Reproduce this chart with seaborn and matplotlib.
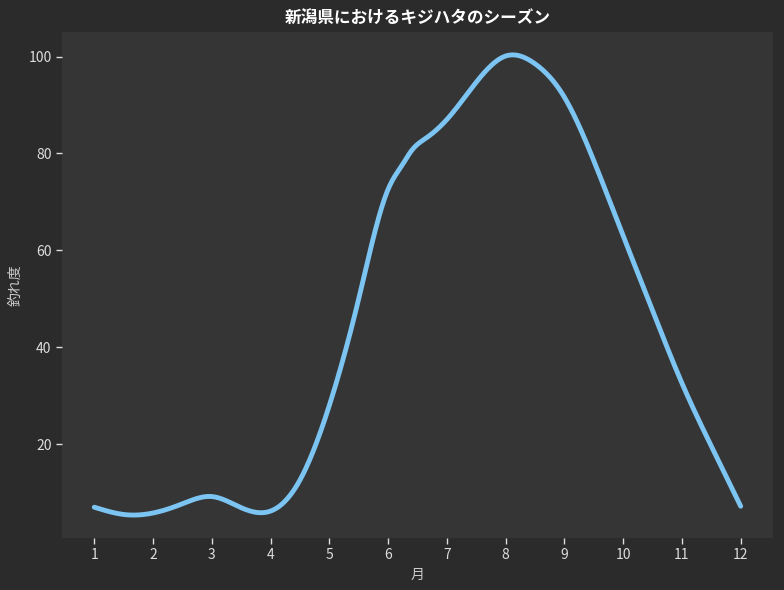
import matplotlib
matplotlib.use('Agg')
import matplotlib.pyplot as plt
import numpy as np
import pandas as pd
import seaborn as sns

# 読み取った値（月, 釣れ度）
months = [1, 1.5, 2, 2.5, 3, 3.5, 4, 4.5, 5, 5.5, 6, 6.25, 6.4, 6.65,
          7, 7.5, 8, 8.5, 9, 9.5, 10, 10.5, 11, 11.5, 12]
catch_rate = [7.0, 5.5, 5.8, 7.7, 9.2, 6.9, 6.2, 12.6, 28.0, 50.0, 72.6, 77.8, 80.6, 83.2,
              87.0, 94.7, 100.1, 98.5, 91.6, 78.5, 63.0, 47.6, 32.6, 19.6, 7.2]
tick_months = list(range(1, 13))

title = '新潟県におけるキジハタのシーズン'
xlabel = '月'
ylabel = '釣れ度'


def natural_spline(x, y, n=500):
    # 描画用の自然3次スプライン（scipy なし）
    x = np.asarray(x, float)
    y = np.asarray(y, float)
    k = len(x)
    h = np.diff(x)
    A = np.zeros((k, k))
    b = np.zeros(k)
    A[0, 0] = A[-1, -1] = 1
    for i in range(1, k - 1):
        A[i, i - 1] = h[i - 1]
        A[i, i] = 2 * (h[i - 1] + h[i])
        A[i, i + 1] = h[i]
        b[i] = 6 * ((y[i + 1] - y[i]) / h[i] - (y[i] - y[i - 1]) / h[i - 1])
    m = np.linalg.solve(A, b)
    xs = np.linspace(x[0], x[-1], n)
    idx = np.clip(np.searchsorted(x, xs) - 1, 0, k - 2)
    x0, x1 = x[idx], x[idx + 1]
    hh = x1 - x0
    t0, t1 = x1 - xs, xs - x0
    ys = (m[idx] * t0 ** 3 / (6 * hh) + m[idx + 1] * t1 ** 3 / (6 * hh)
          + (y[idx] / hh - m[idx] * hh / 6) * t0
          + (y[idx + 1] / hh - m[idx + 1] * hh / 6) * t1)
    return xs, ys


xs, ys = natural_spline(months, catch_rate)
df = pd.DataFrame({'month': xs, 'value': ys})

sns.set_theme(style='dark')
plt.rcParams['font.family'] = ['Noto Sans CJK JP', 'DejaVu Sans']

fig = plt.figure(figsize=(7.84, 5.9), dpi=100, facecolor='#2b2b2b')
ax = fig.add_axes([0.079, 0.088, 0.907, 0.858])
ax.set_facecolor('#353535')

sns.lineplot(data=df, x='month', y='value', ax=ax, color='#7cc4f2', linewidth=3.5)

ax.set_xticks(tick_months)
ax.set_title(title, color='white', fontsize=12, fontweight='bold', pad=6)
ax.set_xlabel(xlabel, color='#cccccc', fontsize=10)
ax.set_ylabel(ylabel, color='#cccccc', fontsize=10)
ax.tick_params(colors='#dddddd', labelsize=10, length=4, width=1,
               bottom=True, left=True)
for s in ax.spines.values():
    s.set_visible(False)
ax.grid(False)

fig.savefig('out.png', dpi=100, facecolor=fig.get_facecolor())
